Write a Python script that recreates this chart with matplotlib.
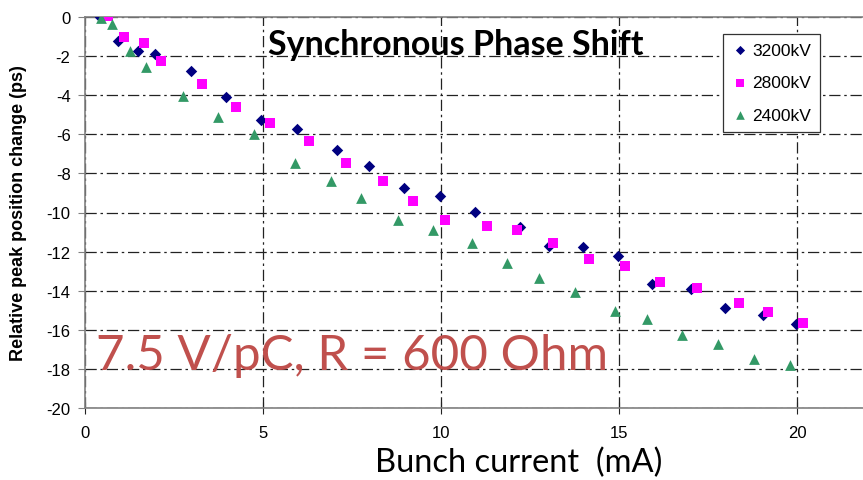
import matplotlib
matplotlib.use("Agg")
import matplotlib.pyplot as plt

x_3200 = [0.43, 0.94, 1.49, 1.99, 2.98, 3.96, 4.95, 5.97, 7.08, 7.99, 8.96, 9.98, 10.97, 12.21, 13.05, 13.99, 14.97, 15.93, 17.03, 17.97, 19.05, 19.97]
y_3200 = [0, -1.21, -1.75, -1.89, -2.75, -4.08, -5.27, -5.73, -6.80, -7.60, -8.75, -9.16, -9.99, -10.76, -11.70, -11.78, -12.24, -13.66, -13.91, -14.90, -15.23, -15.69]

x_2800 = [0.65, 1.11, 1.67, 2.14, 3.30, 4.24, 5.21, 6.29, 7.35, 8.38, 9.23, 10.13, 11.30, 12.14, 13.16, 14.16, 15.18, 16.16, 17.19, 18.36, 19.18, 20.18]
y_2800 = [0.05, -1.00, -1.31, -2.25, -3.43, -4.60, -5.44, -6.36, -7.49, -8.39, -9.41, -10.37, -10.67, -10.90, -11.54, -12.38, -12.75, -13.55, -13.86, -14.63, -15.10, -15.65]

x_2400 = [0.46, 0.76, 1.27, 1.74, 2.77, 3.75, 4.76, 5.90, 6.91, 7.77, 8.80, 9.77, 10.88, 11.87, 12.75, 13.77, 14.90, 15.78, 16.77, 17.79, 18.78, 19.80]
y_2400 = [-0.05, -0.36, -1.75, -2.54, -4.02, -5.11, -5.96, -7.49, -8.37, -9.26, -10.40, -10.89, -11.58, -12.58, -13.37, -14.08, -15.02, -15.45, -16.27, -16.73, -17.49, -17.80]

x_ticks = [0, 5, 10, 15, 20]
y_ticks = [0, -2, -4, -6, -8, -10, -12, -14, -16, -18, -20]

fig = plt.figure(figsize=(8.63, 4.81), dpi=100)
ax = fig.add_axes([84.5/863, 1 - 409/481, 1 - 84.5/863, (409 - 18)/481])

ax.scatter(x_3200, y_3200, marker='D', s=34, color='#000080', label='3200kV', zorder=3, linewidths=0)
ax.scatter(x_2800, y_2800, marker='s', s=44, color='#ff00ff', label='2800kV', zorder=3, linewidths=0)
ax.scatter(x_2400, y_2400, marker='^', s=60, color='#339966', label='2400kV', zorder=3, linewidths=0)

ax.set_xlim(0, 21.85)
ax.set_ylim(-20, 0)
ax.set_xticks(x_ticks)
ax.set_yticks(y_ticks)
ax.set_xticklabels([str(v) for v in x_ticks], fontfamily='Liberation Sans', fontsize=12)
ax.set_yticklabels([str(v) for v in y_ticks], fontfamily='Liberation Sans', fontsize=12)

ls = (0, (9, 3, 2, 3))
ax.grid(True, color='#222222', linestyle=ls, linewidth=0.9)
ax.set_axisbelow(True)

for s in ['left', 'bottom', 'top']:
    ax.spines[s].set_color('#808080')
    ax.spines[s].set_linewidth(1.2)
ax.spines['right'].set_visible(False)
ax.tick_params(axis='y', direction='out', length=5, color='#808080', pad=5)
ax.tick_params(axis='x', direction='inout', length=8, color='#222222', pad=8)

ax.set_ylabel('Relative peak position change (ps)', fontfamily='Liberation Sans',
              fontweight='bold', fontsize=13, labelpad=14)
fig.text(519/863, 1 - 463/481, 'Bunch current  (mA)', fontfamily='Lato', fontsize=23.5,
         ha='center', va='center')

ax.text(456/863, 1 - 45/481, 'Synchronous Phase Shift', transform=fig.transFigure,
        fontfamily='Lato', fontweight='bold', fontsize=24.5, ha='center', va='center')
ax.text(352/863, 1 - 356/481, '7.5 V/pC, R = 600 Ohm', transform=fig.transFigure,
        fontfamily='Lato', fontsize=35.5, color='#c0504d', ha='center', va='center')

leg = ax.legend(loc='upper left', bbox_to_anchor=(723/863, 1 - 35/481),
                bbox_transform=fig.transFigure, prop={'family': 'Liberation Sans', 'size': 12.5},
                frameon=True, fancybox=False, edgecolor='#333333', framealpha=1,
                handletextpad=0.2, borderpad=0.5, labelspacing=1.0, handlelength=1.0,
                markerscale=0.8, borderaxespad=0)
leg.get_frame().set_linewidth(0.9)

fig.savefig('out.png', dpi=100)
